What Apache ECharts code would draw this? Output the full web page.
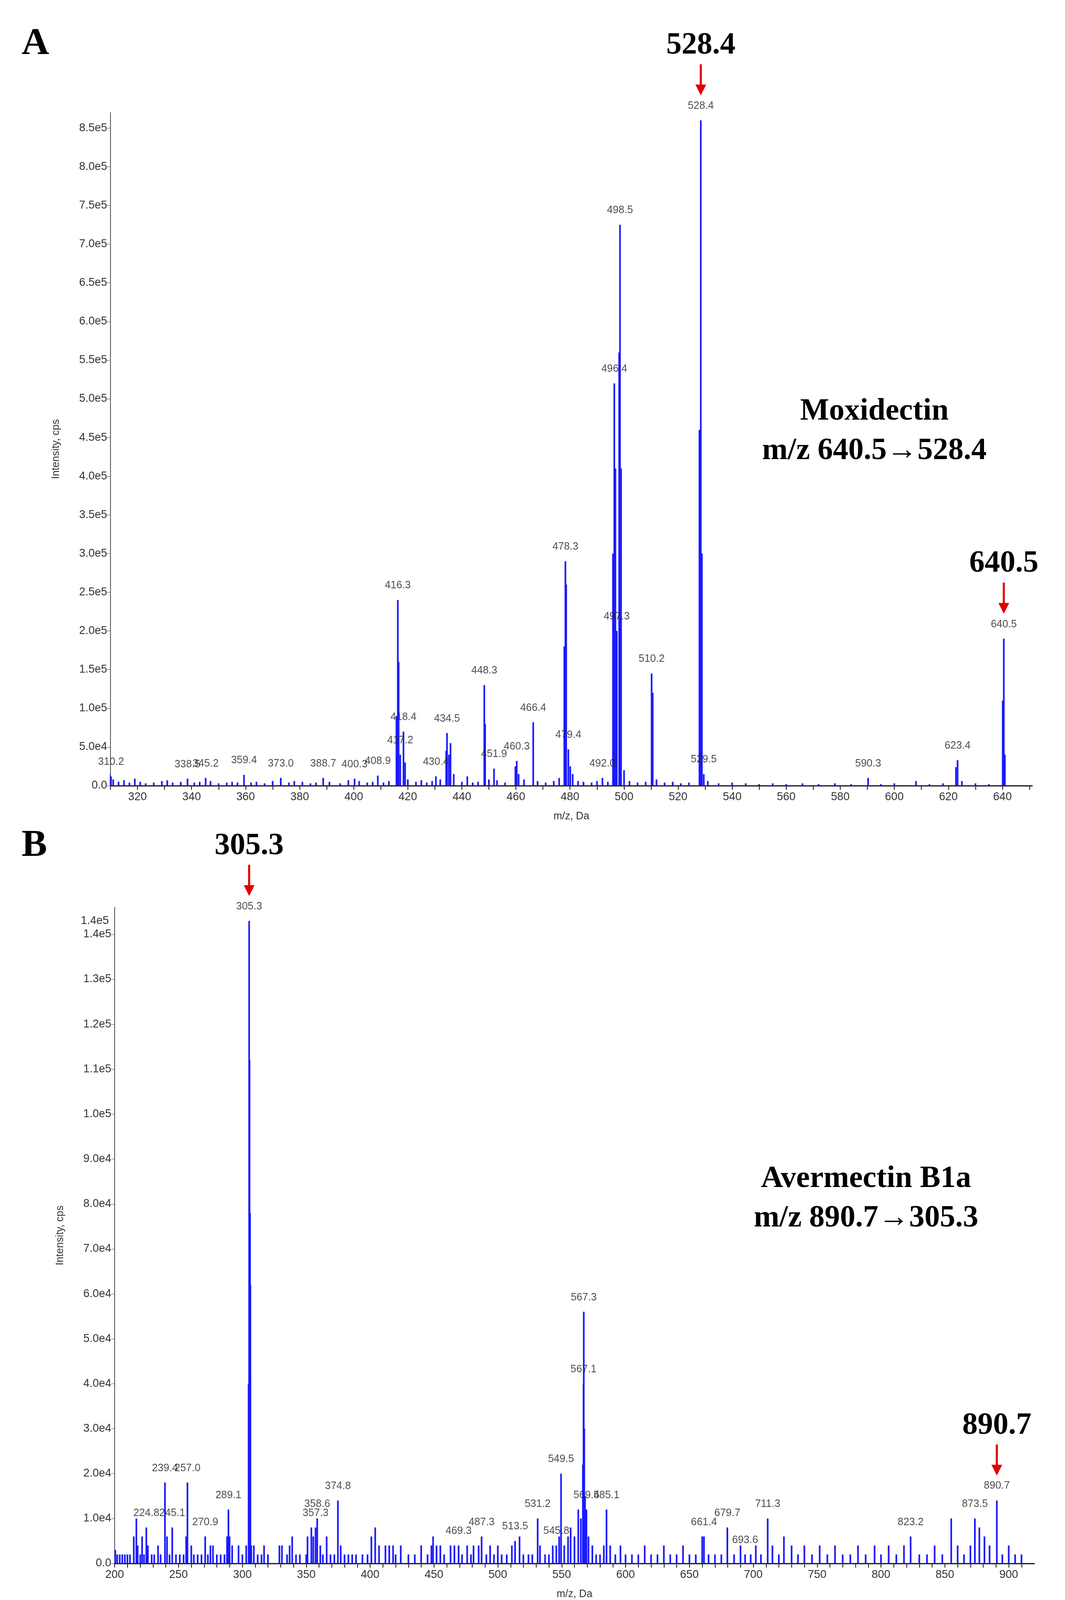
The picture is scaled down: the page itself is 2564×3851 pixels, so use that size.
<!DOCTYPE html>
<html><head><meta charset="utf-8">
<script src="https://cdn.jsdelivr.net/npm/echarts@6/dist/echarts.min.js"></script>
<style>html,body{margin:0;padding:0;background:#fff}#c{width:2564px;height:3851px}</style>
</head><body><div id="c"></div>
<script>
// Panel A: [m/z, intensity]
const peaksA = [
 [309.5,15000],[310.2,12000],[311,8000],[313,5000],[315,7000],[317,4000],[319,9000],[321,5000],[323,3000],[326,4000],[329,6000],[331,7000],[333,4000],[336,5000],[338.5,9000],[341,4000],[343,5000],[345.2,10000],[347,6000],[350,3000],[353,4000],[355,5000],[357,4000],[359.4,14000],[362,4000],[364,5000],[367,3000],[370,6000],[373.0,10000],[376,4000],[378,6000],[381,5000],[384,3000],[386,4000],[388.7,10000],[391,5000],[395,3000],[398,7000],[400.3,9000],[402,6000],[405,4000],[407,5000],[408.9,13000],[411,4000],[413,6000],
 [415.8,90000],[416.3,240000],[416.6,160000],[417.2,40000],[418.4,70000],[419,30000],[420,8000],[423,5000],[425,7000],[427,4000],[429,6000],[430.4,12000],[432,8000],[434.2,45000],[434.5,68000],[435.2,40000],[435.8,55000],[437,15000],[440,5000],[442,12000],[444,4000],[446,5000],[448.3,130000],[448.6,80000],[450,8000],[451.9,22000],[453,7000],[456,4000],[459.8,25000],[460.3,32000],[461,15000],[463,8000],[466.4,82000],[468,6000],[471,4000],[474,6000],[476,10000],
 [477.9,180000],[478.3,290000],[478.6,260000],[479.4,47000],[480.1,25000],[481,15000],[483,6000],[485,5000],[488,4000],[490,6000],[492.0,10000],[494,5000],
 [495.9,300000],[496.4,520000],[496.8,410000],[497.3,200000],[498.2,560000],[498.5,725000],[498.9,410000],[500,20000],[502,6000],[505,4000],[508,5000],[510.2,145000],[510.6,120000],[512,8000],[515,4000],[518,5000],[521,3000],[524,4000],
 [527.9,460000],[528.4,860000],[528.8,300000],[529.5,15000],[531,6000],[535,3000],[540,4000],[545,3000],[550,2000],[555,3000],[560,2000],[566,3000],[572,2000],[578,3000],[584,2000],[590.3,10000],[595,2000],[600,3000],[608,6000],[613,2000],[618,3000],[622.8,24000],[623.4,33000],[625,6000],[630,3000],[635,2000],
 [640.1,110000],[640.5,190000],[640.9,40000]
];
const labelsA = [
 [310.2,12000,'310.2'],[338.5,9000,'338.5'],[345.2,10000,'345.2'],[359.4,14000,'359.4'],[373.0,10000,'373.0'],[388.7,10000,'388.7'],[400.3,9000,'400.3'],[408.9,13000,'408.9'],[416.3,240000,'416.3'],[417.2,40000,'417.2'],[418.4,70000,'418.4'],[430.4,12000,'430.4'],[434.5,68000,'434.5'],[448.3,130000,'448.3'],[451.9,22000,'451.9'],[460.3,32000,'460.3'],[466.4,82000,'466.4'],[478.3,290000,'478.3'],[479.4,47000,'479.4'],[492.0,10000,'492.0'],[496.4,520000,'496.4'],[497.3,200000,'497.3'],[498.5,725000,'498.5'],[510.2,145000,'510.2'],[528.4,860000,'528.4'],[529.5,15000,'529.5'],[590.3,10000,'590.3'],[623.4,33000,'623.4'],[640.5,190000,'640.5']
];
// Panel B
const peaksB = [
 [200.5,3000],[202,2000],[204,2000],[206,2000],[208,2000],[210,2000],[212,2000],[215,6000],[217,10000],[218,4000],[220,2000],[221.5,6000],[223,2000],[224.8,8000],[226,4000],[229,2000],[231,2000],[234,4000],[236,2000],[239.4,18000],[241,6000],[243,2000],[245.1,8000],[248,2000],[251,2000],[254,2000],[256,6000],[257.0,18000],[260,4000],[262,2000],[265,2000],[268,2000],[270.9,6000],[273,2000],[275,4000],[277,4000],[280,2000],[283,2000],[286,2000],[288,6000],[289.1,12000],[290,6000],[292,4000],[297,4000],[300,2000],[303,4000],
 [304.9,40000],[305.3,143000],[305.6,112000],[306,78000],[306.3,62000],[307,4000],[309,4000],[312,2000],[315,2000],[317,4000],[320,2000],[329,4000],[331,4000],[335,2000],[337,4000],[339,6000],[342,2000],[345,2000],[350,2000],[351,6000],[354,8000],[355.5,6000],[357.3,8000],[358.6,10000],[361,4000],[363,2000],[366,6000],[369,2000],[372,2000],[374.8,14000],[377,4000],[380,2000],[383,2000],[386,2000],[389,2000],[394,2000],[398,2000],[401,6000],[404,8000],[407,4000],[412,4000],[415,4000],[418,4000],[420,2000],[424,4000],[430,2000],[435,2000],[440,4000],[445,2000],[448,4000],[449.3,6000],[452,4000],[455,4000],[458,2000],[463,4000],[466,4000],[469.3,4000],[472,2000],[476,4000],[479,2000],[481,4000],[485,4000],[487.3,6000],[491,2000],[494,4000],[497,2000],[500,4000],[503,2000],[507,2000],[511,4000],[513.5,5000],[517,6000],[520,2000],[524,2000],[527,2000],[531.2,10000],[533,4000],[537,2000],[540,2000],[543,4000],[545.8,4000],[548,6000],[549.5,20000],[552,4000],[555,6000],[557,8000],[560,6000],[563,12000],[565,10000],
 [566.6,22000],[567.1,40000],[567.3,56000],[567.7,30000],[568.3,15000],[569.4,12000],[571,6000],[574,4000],[577,2000],[580,2000],[583,4000],[585.1,12000],[588,4000],[592,2000],[596,4000],[600,2000],[605,2000],[610,2000],[615,4000],[620,2000],[625,2000],[630,4000],[635,2000],[640,2000],[645,4000],[650,2000],[655,2000],[660,6000],[661.4,6000],[665,2000],[670,2000],[675,2000],[679.7,8000],[685,2000],[690,4000],[693.6,2000],[698,2000],[702,4000],[706,2000],[711.3,10000],[715,4000],[720,2000],[724,6000],[730,4000],[735,2000],[740,4000],[746,2000],[752,4000],[758,2000],[764,4000],[770,2000],[776,2000],[782,4000],[788,2000],[795,4000],[800,2000],[806,4000],[812,2000],[818,4000],[823.2,6000],[830,2000],[836,2000],[842,4000],[848,2000],[855,10000],[860,4000],[865,2000],[870,4000],[873.5,10000],[877,8000],[881,6000],[885,4000],[890.7,14000],[895,2000],[900,4000],[905,2000],[910,2000]
];
const labelsB = [
 [224.8,8000,'224.8'],[239.4,18000,'239.4'],[245.1,8000,'245.1'],[257.0,18000,'257.0'],[270.9,6000,'270.9'],[289.1,12000,'289.1'],[305.3,143000,'305.3'],[357.3,8000,'357.3'],[358.6,10000,'358.6'],[374.8,14000,'374.8'],[469.3,4000,'469.3'],[487.3,6000,'487.3'],[513.5,5000,'513.5'],[531.2,10000,'531.2'],[545.8,4000,'545.8'],[549.5,20000,'549.5'],[567.1,40000,'567.1'],[567.3,56000,'567.3'],[569.4,12000,'569.4'],[585.1,12000,'585.1'],[661.4,6000,'661.4'],[679.7,8000,'679.7'],[693.6,2000,'693.6'],[711.3,10000,'711.3'],[823.2,6000,'823.2'],[873.5,10000,'873.5'],[890.7,14000,'890.7']
];
const xTicksA = {min:310, max:651, interval:10, labelEvery:20};
const xTicksB = {min:200, max:920, interval:10, labelEvery:50};
const yTicksA = {min:0, max:870000, interval:50000};
const yTicksB = {min:0, max:146000, interval:10000};
const arrowsA = [[528.4,'528.4'],[640.5,'640.5']];
const arrowsB = [[305.3,'305.3'],[890.7,'890.7']];

const expFmt = v => v===0 ? '0.0' : v.toExponential(1).replace('+','');
const font = 'Liberation Sans';
function axisX(i,t){return {type:'value',gridIndex:i,min:t.min,max:t.max,interval:t.interval,
  name:'m/z, Da',nameLocation:'middle',nameGap:62,nameTextStyle:{fontFamily:font,fontSize:25,color:'#333'},
  axisLine:{lineStyle:{color:'#222',width:3}},axisTick:{length:10,lineStyle:{color:'#222',width:2}},
  axisLabel:{fontFamily:font,fontSize:27,color:'#333',margin:14,showMaxLabel:false,formatter:v=>(v%t.labelEvery===0? String(v):'')},
  splitLine:{show:false}};}
function axisY(i,t){return {type:'value',gridIndex:i,min:t.min,max:t.max,interval:t.interval,
  name:'Intensity, cps',nameLocation:'middle',nameGap:118,nameTextStyle:{fontFamily:font,fontSize:25,color:'#333'},
  axisLine:{show:true,lineStyle:{color:'#555',width:2}},axisTick:{show:true,length:8,lineStyle:{color:'#555'}},
  axisLabel:{fontFamily:font,fontSize:27,color:'#333',formatter:expFmt,showMaxLabel:false},splitLine:{show:false}};}
function barSeries(i,d){return {type:'bar',xAxisIndex:i,yAxisIndex:i,data:d,barWidth:4,barGap:'-100%',itemStyle:{color:'#1a1aff'},silent:true,animation:false};}
function labSeries(i,d){return {type:'scatter',xAxisIndex:i,yAxisIndex:i,symbolSize:0,animation:false,
  data:d.map(p=>({value:[p[0],p[1]],label:{show:true,formatter:p[2]}})),
  label:{position:'top',distance:22,fontFamily:font,fontSize:25,color:'#222'}};}

const chart = echarts.init(document.getElementById('c'));
chart.setOption({
  backgroundColor:'#fff',animation:false,
  grid:[{left:266,right:79,top:271,height:1620},{left:276,right:74,top:2184,height:1580}],
  xAxis:[axisX(0,xTicksA),axisX(1,xTicksB)],
  yAxis:[axisY(0,yTicksA),axisY(1,yTicksB)],
  series:[barSeries(0,peaksA),barSeries(1,peaksB),labSeries(0,labelsA),labSeries(1,labelsB)]
});

const g=[];
const serif='Liberation Serif';
function arrows(idx,list){
  list.forEach(([x,t])=>{
    const ypk = (idx===0 ? peaksA : peaksB).find(p=>p[0]===x)[1];
    const p = chart.convertToPixel({xAxisIndex:idx,yAxisIndex:idx},[x,ypk]);
    const tipY = p[1]-60, topY = tipY-75;
    g.push({type:'line',shape:{x1:p[0],y1:topY,x2:p[0],y2:tipY-18},style:{stroke:'#e00000',lineWidth:5}});
    g.push({type:'polygon',shape:{points:[[p[0]-13,tipY-26],[p[0]+13,tipY-26],[p[0],tipY]]},style:{fill:'#e00000'}});
    g.push({type:'text',x:p[0],y:topY-8,style:{text:t,font:'bold 74px "'+serif+'"',fill:'#000',textAlign:'center',textVerticalAlign:'bottom'}});
  });
}
arrows(0,arrowsA); arrows(1,arrowsB);
g.push({type:'text',x:52,y:60,style:{text:'A',font:'bold 92px "'+serif+'"',fill:'#000'}});
g.push({type:'text',x:52,y:1990,style:{text:'B',font:'bold 92px "'+serif+'"',fill:'#000'}});
g.push({type:'text',x:2105,y:943,style:{text:'Moxidectin\nm/z 640.5→528.4',font:'bold 74px "'+serif+'"',fill:'#000',textAlign:'center',lineHeight:95}});
g.push({type:'text',x:2085,y:2790,style:{text:'Avermectin B1a\nm/z 890.7→305.3',font:'bold 74px "'+serif+'"',fill:'#000',textAlign:'center',lineHeight:95}});
const topB = chart.convertToPixel({xAxisIndex:1,yAxisIndex:1},[200,143000]);
g.push({type:'text',x:topB[0]-14,y:topB[1],style:{text:'1.4e5',font:'27px "'+font+'"',fill:'#333',textAlign:'right',textVerticalAlign:'middle'}});
chart.setOption({graphic:g});
</script></body></html>
